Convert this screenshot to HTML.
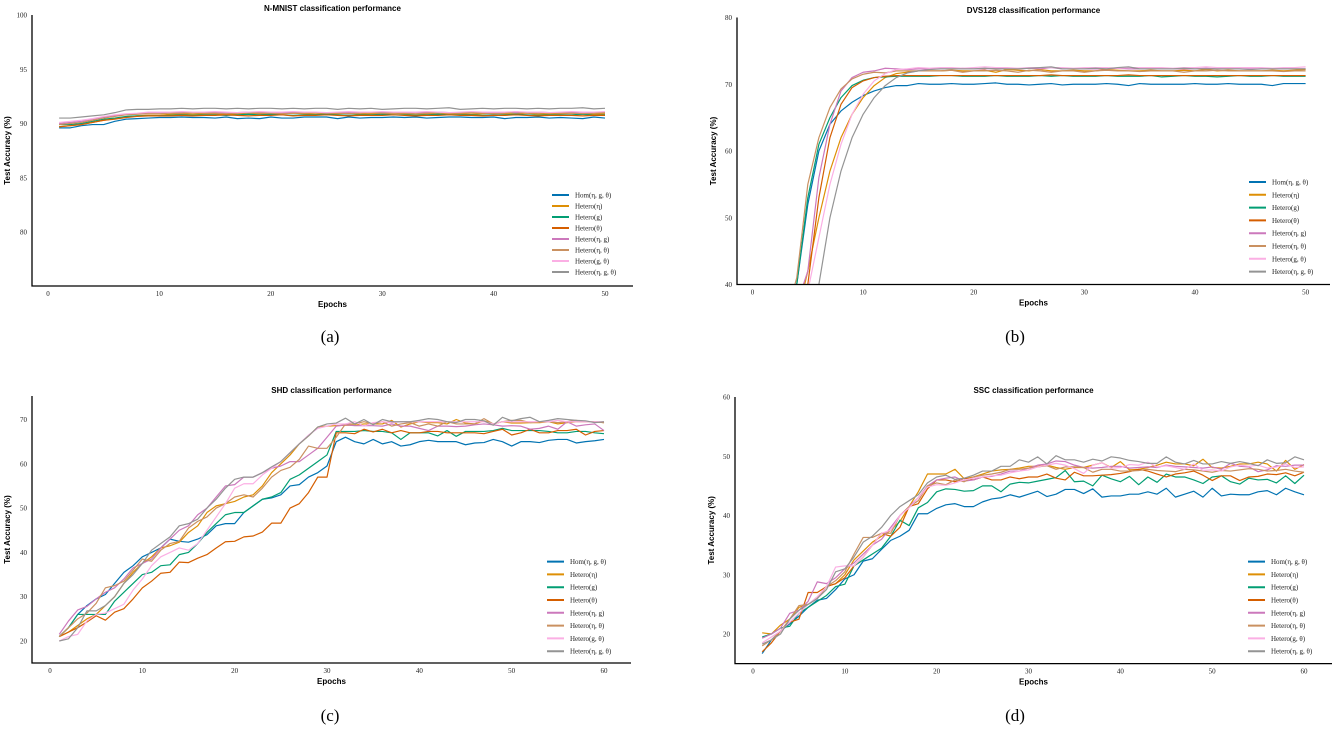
<!DOCTYPE html>
<html><head><meta charset="utf-8">
<style>
body{margin:0;background:#fff;}
svg{display:block;font-family:"Liberation Serif",serif;}
.ttl{font-family:"Liberation Sans",sans-serif;font-weight:bold;font-size:8px;}
.tk{font-size:7px;fill:#222;}
.lg{font-size:7px;fill:#222;}
.cap{font-size:17px;font-family:"Liberation Serif",serif;}
</style></head>
<body>
<svg id="fig" width="1334" height="731" viewBox="0 0 1334 731"></svg>
<script>
const seriesNames=["Hom(η, g, θ)","Hetero(η)","Hetero(g)","Hetero(θ)","Hetero(η, g)","Hetero(η, θ)","Hetero(g, θ)","Hetero(η, g, θ)"];
const seriesColors=["#0173b2","#de8f05","#029e73","#d55e00","#cc78bc","#ca9161","#fbafe4","#949494"];

// (a) N-MNIST
const nmHom=[89.6,89.6,89.8,89.9,89.9,90.2,90.4,90.45,90.5,90.55,90.55,90.6,90.55,90.55,90.5,90.6,90.45,90.5,90.45,90.6,90.5,90.5,90.6,90.6,90.6,90.45,90.6,90.5,90.55,90.55,90.6,90.55,90.6,90.5,90.55,90.6,90.6,90.55,90.55,90.6,90.45,90.55,90.55,90.6,90.5,90.55,90.5,90.45,90.6,90.5];
const nmEta=[89.7,89.8,89.9,90.1,90.3,90.45,90.6,90.7,90.75,90.75,90.85,90.9,90.85,90.9,90.9,90.85,90.9,90.95,90.9,90.85,90.9,90.95,90.9,90.85,90.9,90.9,90.95,90.85,90.9,90.9,90.95,90.9,90.85,90.9,90.95,90.9,90.9,90.85,90.9,90.95,90.9,90.9,90.95,90.85,90.9,90.9,90.95,90.9,90.85,90.9];
const nmG=[89.9,89.9,90.0,90.2,90.4,90.5,90.65,90.7,90.7,90.7,90.75,90.8,90.75,90.8,90.8,90.75,90.8,90.85,90.8,90.85,90.8,90.75,90.8,90.8,90.85,90.8,90.75,90.8,90.8,90.85,90.8,90.8,90.75,90.8,90.85,90.8,90.8,90.8,90.75,90.8,90.8,90.85,90.8,90.75,90.8,90.8,90.8,90.85,90.75,90.8];
const nmTh=[89.7,89.8,89.9,90.1,90.3,90.4,90.55,90.65,90.7,90.7,90.7,90.75,90.7,90.75,90.75,90.8,90.75,90.7,90.75,90.75,90.8,90.7,90.75,90.75,90.8,90.75,90.7,90.75,90.75,90.75,90.8,90.75,90.7,90.75,90.75,90.8,90.75,90.75,90.7,90.75,90.75,90.8,90.75,90.7,90.75,90.75,90.75,90.7,90.75,90.75];
const nmEG=[90.0,90.1,90.2,90.4,90.6,90.75,90.85,90.9,91.0,91.0,91.0,91.05,91.0,91.0,91.05,91.0,91.0,91.05,91.0,91.05,91.0,91.0,91.05,91.0,91.0,91.0,91.05,91.0,91.05,91.0,91.0,91.0,91.05,91.0,91.05,91.0,91.0,91.05,91.0,91.0,91.05,91.0,91.0,91.05,91.0,91.0,91.0,91.05,91.0,91.0];
const nmET=[89.9,90.0,90.1,90.3,90.5,90.65,90.8,90.85,90.9,90.9,90.95,90.95,91.0,90.95,90.95,90.9,90.95,91.0,90.95,90.95,90.9,90.95,90.95,91.0,90.95,90.95,90.9,90.95,91.0,90.95,90.95,90.95,90.9,90.95,91.0,90.95,90.95,91.0,90.95,90.9,90.95,91.1,90.95,90.95,91.0,90.95,90.95,90.9,90.95,91.0];
const nmGT=[90.1,90.2,90.3,90.45,90.65,90.8,90.9,90.95,91.05,91.05,91.05,91.1,91.05,91.05,91.1,91.05,91.0,91.05,91.1,91.05,91.05,91.1,91.05,91.05,91.0,91.05,91.1,91.05,91.05,91.1,91.05,91.05,91.05,91.1,91.05,91.0,91.05,91.1,91.05,91.05,91.05,91.1,91.05,91.05,91.0,91.05,91.1,91.05,91.05,91.1];
const nmEGT=[90.5,90.5,90.6,90.7,90.8,91.0,91.25,91.3,91.3,91.35,91.35,91.4,91.35,91.4,91.4,91.35,91.4,91.35,91.4,91.4,91.35,91.4,91.35,91.4,91.4,91.3,91.4,91.35,91.4,91.3,91.35,91.4,91.4,91.35,91.4,91.45,91.3,91.35,91.4,91.35,91.4,91.4,91.35,91.4,91.35,91.4,91.4,91.45,91.35,91.4];

// (b) DVS128
const dvHom=[20,25,32,40,52,60,64,66,67.3,68.3,69,69.5,69.8,69.8,70.1,70,70,70.1,70,70,70.1,70.2,70,70,69.9,70,70.1,69.9,70,70,70,70.1,70,69.8,70.1,70,70,70,70,70.1,70,70,70.1,70,70,70,69.8,70.1,70.1,70.1];
const dvEta=[15,20,28,35,42,50,57,62,65.5,68,69.8,71,71.6,71.8,72,72,72,72.1,72,72,72.1,71.8,72.2,72.1,72,72.2,72,72,72.1,72,72,72.2,72.1,72,72,72.1,72,72,72.1,72,72.2,72,72.1,72,72,72,72.1,72,72.1,72.2];
const dvG=[20,26,33,40,53,61,65,68,69.8,70.6,71,71.1,71.2,71.2,71.2,71.2,71.3,71.3,71.2,71.2,71.2,71.3,71.2,71.2,71.2,71.3,71.2,71.3,71.2,71.2,71.2,71.3,71.2,71.2,71.2,71.3,71.1,71.2,71.3,71.2,71.2,71.1,71.2,71.3,71.2,71.2,71.3,71.2,71.2,71.2];
const dvTh=[15,22,30,37,40,53,62,67,69.5,70.5,71,71.2,71.3,71.3,71.3,71.3,71.3,71.3,71.3,71.3,71.3,71.3,71.3,71.3,71.3,71.3,71.4,71.3,71.3,71.3,71.3,71.3,71.3,71.4,71.3,71.3,71.3,71.3,71.3,71.3,71.3,71.3,71.3,71.3,71.3,71.3,71.3,71.3,71.3,71.3];
const dvEG=[15,22,30,37,42,56,64,69,71,71.8,72,72.4,72.3,72.2,72.3,72.3,72.3,72.3,72.4,72.3,72.3,72.4,72.3,72.3,72.4,72.3,72.5,72.3,72.3,72.3,72.3,72.3,72.4,72.3,72.3,72.3,72.3,72.3,72.3,72.3,72.4,72.3,72.3,72.3,72.3,72.3,72.3,72.3,72.3,72.3];
const dvET=[20,27,35,41,55,62,66.5,69.3,70.8,71.5,71.8,71.7,72,72,72,72,72,72.1,71.8,72,72,72.1,72,71.8,72.1,72,71.8,72,72,71.8,72,72.1,72,72,71.9,72,72,72,71.8,72,72,72.1,72,72,72,72,72,71.9,72,72];
const dvGT=[12,18,26,33,39,47,55,61,65.5,68.5,70.5,71.6,72.2,72.3,72.5,72.4,72.5,72.5,72.4,72.5,72.6,72.5,72.5,72.4,72.5,72.5,72.5,72.5,72.4,72.5,72.5,72.5,72.4,72.5,72.5,72.5,72.5,72.4,72.5,72.5,72.6,72.5,72.5,72.5,72.5,72.5,72.4,72.5,72.5,72.6];
const dvEGT=[10,16,23,30,35,40,50,57,62,65.5,68,69.8,71,71.7,72,72.2,72.3,72.3,72.3,72.3,72.4,72.3,72.3,72.3,72.4,72.5,72.6,72.3,72.3,72.3,72.4,72.3,72.5,72.6,72.3,72.3,72.3,72.3,72.4,72.3,72.3,72.3,72.3,72.3,72.2,72.3,72.3,72.3,72.3,72.3];

// (c) SHD
const shHom=[21,23,26,28,29.5,30.5,33,35.5,37,39,40,41,43,42.5,42.3,43,44,46,46.5,46.5,49,50.5,52,52.3,53,55,55.3,57,58,59.5,65,66,65,64.5,65.5,64.5,65,64,64.3,65,65.3,65,65,65,64.3,64.7,64.8,65.5,65,64,65,65,64.8,65.3,65.5,65.5,64.7,65,65.2,65.5];
const shEta=[21,22,23.5,25,26,28,30,33,35.5,37.5,39,41,41.5,42.3,44.5,46,49,50.5,51,51.5,52.5,53,55,58,60,62,64.5,66.3,68.3,68.5,68.6,68.7,68.7,69,69,69,69.8,68.3,69,69.5,69.3,69.3,69,70,69.2,69,69.7,69,69.5,69.2,69.2,69.3,69.3,69.5,69,69.3,69.5,69.5,69.5,69.3];
const shG=[21,23,26,26,26,26,29,31,33,35,35.5,37,37.2,39.5,40,42,44.5,46.5,48.5,49,49,50.5,52,52.5,53.5,56.5,57.5,59,60.5,62,67.3,67.3,67.3,67.5,67.3,67.3,67,65.5,67,67,67,66.3,67.5,66.2,67.3,67.3,67.3,67.5,68,67.5,67.5,67.5,67.5,67.3,67,67,67.3,67.3,67,66.8];
const shTh=[21,22,23,24.3,25.7,24.7,26.5,27.3,29.5,32,33.5,35.3,35.5,37.8,37.7,38.7,39.5,41,42.4,42.5,43.5,43.7,44.6,46.6,46.6,50,51,53.5,57,57,67,67,66.8,67.8,67.2,67.8,67,67.5,67,67,67.3,67.3,67,67,67,67,66.8,67.3,67.8,66.5,67,67.8,67,67,67.5,67.5,67.8,66.5,67.3,67.5];
const shEG=[21.5,24.5,27,27.8,29.5,31,32,34,36.5,37.5,38.5,41,43,45,46,48.5,50,52.5,55,55.3,57,57,58,59,59.5,60.5,60.5,62,63.5,66,68.5,68.8,68.6,68.6,68.6,68.5,69,68.5,68.5,68,67.5,68.5,68.5,68.4,68.5,68.8,69,68.8,68.5,68.6,68.5,67.8,68,68.5,67.8,69.5,68.5,68.8,69,67.5];
const shET=[21,23,25,26.3,28.5,32,32.5,33.5,36,38.5,38,40.5,42,42.5,45.5,47,48,50,51,52.5,53,52.5,54.5,57,58.5,59.2,61,64,63.5,63.5,66,69,69,69.5,69,69.5,68.5,69,69.3,68.5,69,68.5,69.5,69,69,69,70.2,69,69.5,69.8,69.8,69.3,69.5,69.5,69.3,69.5,69.8,69.5,69.5,69.3];
const shGT=[20,21,21.5,24.5,26,26.3,27.3,28.3,31.5,34,37,39,40,41,40.5,42,45,48,51,54.5,55.5,55.5,57.5,59,60.5,62.5,64.5,66.5,68,68.5,69,69,69.5,68.5,69.3,69.5,69.3,69.5,69.5,69.5,69.5,69.5,69.5,69.5,69.5,69.5,69.5,69,69.5,69.5,69.5,69.5,69.5,69.5,69.8,69.5,69.5,69.5,69.5,69.5];
const shEGT=[20,20.5,23,26.8,26.8,28,30,33,35,37.5,40.5,42,43.5,46,46.5,47.5,50,52,54.5,56.5,57,57,58,59.3,60.5,62.5,64.5,66.3,68.3,69,69.2,70.3,69,70,68.8,70,69.5,69.5,69.5,69.8,70.2,70,69.5,69.3,70,70,69.7,68.7,70.5,69.7,70.2,70.5,69.5,69.8,70.2,70,69.8,69.7,69.3,69.5];

// (d) SSC
const ssHom=[16.7,19,20.5,21.7,23,24.5,25.7,26,27.5,29.3,30,32.3,32.7,34.3,35.8,36.5,37.5,40.3,40.3,41.2,41.8,42,41.5,41.5,42.3,42.8,43,43.5,43.1,43.6,44.1,43.2,43.6,44.4,44.4,43.7,44.5,43.1,43.3,43.3,43.6,43.6,44,43.6,44.6,43.1,43.6,44.1,43.1,44.6,43.3,43.6,43.5,43.5,44,44.2,43.5,44.6,44,43.5];
const ssEta=[20.2,20,21.5,22.5,24.5,25,26,28,28.5,30,32.5,34,35.5,36.5,37.5,39,41.5,44,47,47,47,47.8,46.2,46.5,47,47.5,47.7,47.8,48,48.3,48.3,48.5,48.1,47.8,48.1,48.1,48.5,48.9,48.1,49.1,47.7,47.8,48.1,48.5,49,48.7,48.7,48.4,49.5,48.1,48,48.3,48.7,48.7,49,48.7,47.5,49.3,47.8,48.6];
const ssG=[19.5,20,21,21.3,23.5,24.5,25.5,26.5,28,28.4,31.5,32.5,33.5,34.5,36.5,39.2,38.3,41.3,42.2,44,44.5,44.4,44.1,44.2,45,45,44,45.3,45.6,45.5,45.8,46.1,46.4,47.6,45.7,45.8,45,46.8,46.2,45.7,46.6,45.2,46.5,45.6,47,46.5,46.5,46,45.4,46.5,46.7,45.7,45.3,46.3,46,46.1,45.5,46.7,45.4,46.8];
const ssTh=[17,18.5,20.5,22,22.5,27,27,28,28.5,29.5,31.5,33,35,37,36.5,38,41.5,42,44.5,46,46,45.7,46.3,46,46.5,46,46,46.5,46.2,46.5,46.5,47,46.3,46,47.3,46.7,46.7,46.8,46.9,47.1,47.4,47.8,47.5,47,46.5,47,47.2,47.5,46.8,45.9,46.7,46.7,45.9,46.5,46.6,47,46.9,47.2,46.7,47.3];
const ssEG=[19.3,20,21,23.5,24,25.5,28.8,28.5,29.5,31,32,33.5,35,36,38,40,41.5,43,45,46,46.3,46.5,45.8,46,46.5,46.6,47,47.5,47.5,48,48.5,48.7,49.2,49.1,48.5,48.1,48,48.1,48.3,48.3,48,48.1,48.2,48.1,48.5,48.3,48.2,48.1,48,48.2,47.8,48.8,48.3,48.2,47.4,47.7,48.4,48.3,48.5,48.5];
const ssET=[18,19,20.5,22.5,24.8,25,26,28,29,30.5,33.5,36.3,36.3,37,37,40,41.5,42.5,45,45.5,45.2,46,45.7,46.5,46.8,47,47.3,47.8,47.8,48,48.2,48.4,47.8,48.2,48.2,48.1,47.3,47.8,47.8,47.5,47.5,47.6,47.8,47.6,47.5,47.4,47.8,47.7,47.5,47.3,47.6,47.5,47.7,47.9,47.8,47.5,47.6,47.8,47.5,47.3];
const ssGT=[18.5,19.5,20.5,22,23.5,25,26.3,28,31.3,31.5,31.5,33,35,37,37.5,40,41.3,43,44.8,45.2,45.1,45.5,46,46.3,46.5,46.7,46.8,47.2,47.5,47.7,48.2,48.5,48.8,48.5,47.9,47.1,48.5,48.9,48,48.1,48.6,48.5,49,48.2,48.4,48.1,47.8,48.7,47.6,47.7,47.5,48.2,48.5,48.3,48.5,48,48.2,48.7,48.1,48.2];
const ssEGT=[18.3,19,20,22.5,24,25,26,27.5,30.5,31,33,35.5,36.5,38,40,41.5,42.5,43.5,45.5,46.5,46.8,46.1,46.3,46.8,47.5,47.5,48.3,48.3,49.4,49,49.9,48.7,50.1,49.4,49.4,49,49.5,49.2,49.9,49.7,49.3,49.1,48.8,48.8,49.9,49,48.7,49.3,48.7,48.7,49.1,48.8,49.1,48.8,48.4,49.4,48.8,48.9,49.9,49.4];

const xTicksA=[0,10,20,30,40,50], yTicksA=[80,85,90,95,100];
const xTicksB=[0,10,20,30,40,50], yTicksB=[40,50,60,70,80];
const xTicksC=[0,10,20,30,40,50,60], yTicksC=[20,30,40,50,60,70];
const xTicksD=[0,10,20,30,40,50,60], yTicksD=[20,30,40,50,60];

const panels=[
 {id:"nmnist",title:"N-MNIST classification performance",cap:"(a)",series:[nmHom,nmEta,nmG,nmTh,nmEG,nmET,nmGT,nmEGT],xt:xTicksA,yt:yTicksA,
  xd:[0,50],xp:[48,605],yd:[80,100],yp:[232,15],yMin:75,sp:{l:32,r:633,t:15,b:286},title_y:11,ylx:10,leg:{x:552,y:195,dy:11},capY:342,capX:330},
 {id:"dvs128",title:"DVS128 classification performance",cap:"(b)",series:[dvHom,dvEta,dvG,dvTh,dvEG,dvET,dvGT,dvEGT],xt:xTicksB,yt:yTicksB,
  xd:[0,50],xp:[752.5,1305.6],yd:[40,80],yp:[284.5,17.5],yMin:40,sp:{l:737,r:1330,t:17.5,b:284.5},title_y:13,ylx:716,leg:{x:1249,y:182,dy:12.8},capY:342,capX:1015},
 {id:"shd",title:"SHD classification performance",cap:"(c)",series:[shHom,shEta,shG,shTh,shEG,shET,shGT,shEGT],xt:xTicksC,yt:yTicksC,
  xd:[0,60],xp:[50,604],yd:[20,70],yp:[641,419.5],yMin:15,sp:{l:32,r:631,t:396,b:663},title_y:393,ylx:10,leg:{x:547,y:561.6,dy:12.8},capY:721,capX:330},
 {id:"ssc",title:"SSC classification performance",cap:"(d)",series:[ssHom,ssEta,ssG,ssTh,ssEG,ssET,ssGT,ssEGT],xt:xTicksD,yt:yTicksD,
  xd:[0,60],xp:[753,1304],yd:[20,60],yp:[634,397],yMin:15,sp:{l:735,r:1332,t:397,b:663.6},title_y:393,ylx:714,leg:{x:1248,y:561.6,dy:12.8},capY:721,capX:1015}
];
const NS="http://www.w3.org/2000/svg";
const svg=document.getElementById("fig");
function mk(tag,attrs,parent){const e=document.createElementNS(NS,tag);for(const k in attrs)e.setAttribute(k,attrs[k]);(parent||svg).appendChild(e);return e;}
panels.forEach((p,pi)=>{
  const g=mk("g",{});
  
  
  const sx=v=>p.xp[0]+(v-p.xd[0])*(p.xp[1]-p.xp[0])/(p.xd[1]-p.xd[0]);
  const sy=v=>p.yp[0]+(v-p.yd[0])*(p.yp[1]-p.yp[0])/(p.yd[1]-p.yd[0]);
  const cp=mk("clipPath",{id:"clip"+pi},g);
  mk("rect",{x:p.sp.l,y:p.sp.t-2,width:p.sp.r-p.sp.l,height:p.sp.b-p.sp.t+2},cp);
  const t=mk("text",{x:(p.sp.l+p.sp.r)/2,y:p.title_y,"text-anchor":"middle",class:"ttl"},g);t.textContent=p.title;
  
  
  // series
  const lg=mk("g",{"clip-path":"url(#clip"+pi+")"},g);
  p.series.forEach((arr,si)=>{
    const d=arr.map((v,i)=>(i?"L":"M")+sx(i+1).toFixed(2)+","+sy(v).toFixed(2)).join("");
    const pl=mk("path",{d:d,fill:"none",stroke:seriesColors[si],"stroke-width":1.2,"stroke-linejoin":"round"},lg);
    
    
  });
  // spines
  const ax=mk("path",{d:`M${p.sp.l},${p.sp.t}L${p.sp.l},${p.sp.b}L${p.sp.r},${p.sp.b}`,fill:"none",stroke:"#000","stroke-width":1.3},g);
  
  
  p.xt.forEach(v=>{const e=mk("text",{x:sx(v),y:p.sp.b+10,"text-anchor":"middle",class:"tk"},g);e.textContent=v;
    
    });
  p.yt.forEach(v=>{const e=mk("text",{x:p.sp.l-5,y:sy(v)+2.5,"text-anchor":"end",class:"tk"},g);e.textContent=v;
    
    });
  const xl=mk("text",{x:(p.sp.l+p.sp.r)/2,y:p.sp.b+21,"text-anchor":"middle",class:"ttl"},g);xl.textContent="Epochs";
  
  
  const my=(p.sp.t+p.sp.b)/2;
  const yl=mk("text",{x:p.ylx,y:my,"text-anchor":"middle",class:"ttl",transform:`rotate(-90 ${p.ylx} ${my})`},g);yl.textContent="Test Accuracy (%)";
  
  
  // legend
  const lgd=mk("g",{},g);
  
  
  seriesNames.forEach((n,si)=>{
    const y=p.leg.y+si*p.leg.dy;
    const l=mk("line",{x1:p.leg.x,x2:p.leg.x+17,y1:y,y2:y,stroke:seriesColors[si],"stroke-width":2},lgd);
    
    
    const tx=mk("text",{x:p.leg.x+23,y:y+2.5,class:"lg"},lgd);tx.textContent=n;
    
    
  });
  const c=mk("text",{x:p.capX,y:p.capY,"text-anchor":"middle",class:"cap"},g);c.textContent=p.cap;
  
  
});
</script>
</body></html>
